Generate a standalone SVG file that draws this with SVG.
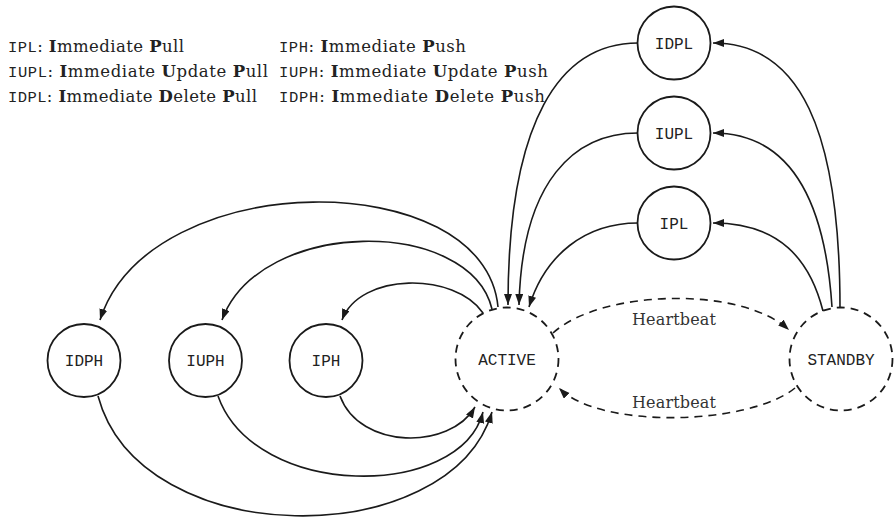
<svg xmlns="http://www.w3.org/2000/svg" width="894" height="518" viewBox="0 0 894 518">
<style>
.bg{fill:#fff}
.n{fill:#fff;stroke:#1a1a1a;stroke-width:1.8}
.nd{fill:none;stroke:#1a1a1a;stroke-width:1.8;stroke-dasharray:8 6}
.lbl{font-family:"Liberation Mono","DejaVu Sans Mono",monospace;font-size:16px;fill:#222;text-anchor:middle}
.e{fill:none;stroke:#1a1a1a;stroke-width:1.6;marker-end:url(#ah)}
.ed{fill:none;stroke:#1a1a1a;stroke-width:1.6;stroke-dasharray:8 6;marker-end:url(#ah)}
.lg{font-family:"DejaVu Serif","Liberation Serif",serif;font-size:16.5px;fill:#222}
.tt{font-family:"Liberation Mono","DejaVu Sans Mono",monospace;font-size:15.5px}
.b{font-weight:bold}
.hb{font-family:"DejaVu Serif","Liberation Serif",serif;font-size:16px;fill:#333;text-anchor:middle}
</style>
<defs>
<marker id="ah" markerUnits="userSpaceOnUse" markerWidth="12" markerHeight="9" refX="11" refY="4" orient="auto">
<path d="M0,0 L11,4 L0,8 Z" fill="#1a1a1a"/>
</marker>
</defs>
<rect class="bg" x="0" y="0" width="894" height="518"/>

<g id="legend">
<text class="lg" x="8" y="52" textLength="176" lengthAdjust="spacing"><tspan class="tt">IPL</tspan>: <tspan class="b">I</tspan>mmediate <tspan class="b">P</tspan>ull</text>
<text class="lg" x="8" y="77" textLength="260" lengthAdjust="spacing"><tspan class="tt">IUPL</tspan>: <tspan class="b">I</tspan>mmediate <tspan class="b">U</tspan>pdate <tspan class="b">P</tspan>ull</text>
<text class="lg" x="8" y="102" textLength="249" lengthAdjust="spacing"><tspan class="tt">IDPL</tspan>: <tspan class="b">I</tspan>mmediate <tspan class="b">D</tspan>elete <tspan class="b">P</tspan>ull</text>
<text class="lg" x="279" y="52" textLength="187" lengthAdjust="spacing"><tspan class="tt">IPH</tspan>: <tspan class="b">I</tspan>mmediate <tspan class="b">P</tspan>ush</text>
<text class="lg" x="279" y="77" textLength="269" lengthAdjust="spacing"><tspan class="tt">IUPH</tspan>: <tspan class="b">I</tspan>mmediate <tspan class="b">U</tspan>pdate <tspan class="b">P</tspan>ush</text>
<text class="lg" x="279" y="102" textLength="266" lengthAdjust="spacing"><tspan class="tt">IDPH</tspan>: <tspan class="b">I</tspan>mmediate <tspan class="b">D</tspan>elete <tspan class="b">P</tspan>ush</text>
</g>

<g id="connectors">
<path class="e" d="M638,43 C560,43 508,120 508,305"/>
<path class="e" d="M638,133 C575,133 522,180 519,305"/>
<path class="e" d="M638,223 C585,223 545,255 529,307"/>
<path class="e" d="M840,308 C840,130 800,43 713,43"/>
<path class="e" d="M832,307 C825,200 790,133 713,133"/>
<path class="e" d="M823,311 C810,260 780,223 713,223"/>
<path class="e" d="M483,313 C455,272 360,272 342,320"/>
<path class="e" d="M492,309 C470,217 260,217 222,320"/>
<path class="e" d="M498,307 C485,165 150,165 100,320"/>
<path class="e" d="M340,396 C360,450 450,450 475,407"/>
<path class="e" d="M218,396 C255,500 460,500 483,412"/>
<path class="e" d="M98,396 C140,553 450,553 492,412"/>
<path class="ed" d="M553,333 C600,290 740,285 789,330"/>
<path class="ed" d="M795,388 C750,425 600,430 559,388"/>
<text class="hb" x="674" y="325" textLength="84" lengthAdjust="spacing">Heartbeat</text>
<text class="hb" x="674" y="408" textLength="84" lengthAdjust="spacing">Heartbeat</text>
</g>

<g id="IDPL"><circle class="n" cx="674" cy="43" r="36.5"/><text class="lbl" x="674" y="48.5">IDPL</text></g>
<g id="IUPL"><circle class="n" cx="674" cy="133" r="36.5"/><text class="lbl" x="674" y="138.5">IUPL</text></g>
<g id="IPL"><circle class="n" cx="674" cy="223" r="36.5"/><text class="lbl" x="674" y="228.5">IPL</text></g>
<g id="IDPH"><circle class="n" cx="84" cy="360.5" r="36.5"/><text class="lbl" x="84" y="366">IDPH</text></g>
<g id="IUPH"><circle class="n" cx="205.5" cy="360.5" r="36.5"/><text class="lbl" x="205.5" y="366">IUPH</text></g>
<g id="IPH"><circle class="n" cx="326" cy="360.5" r="36.5"/><text class="lbl" x="326" y="366">IPH</text></g>
<g id="ACTIVE"><circle class="nd" cx="507" cy="359" r="51.5"/><text class="lbl" x="507" y="364.5">ACTIVE</text></g>
<g id="STANDBY"><circle class="nd" cx="841" cy="359" r="51.5"/><text class="lbl" x="841" y="364.5">STANDBY</text></g>
</svg>
